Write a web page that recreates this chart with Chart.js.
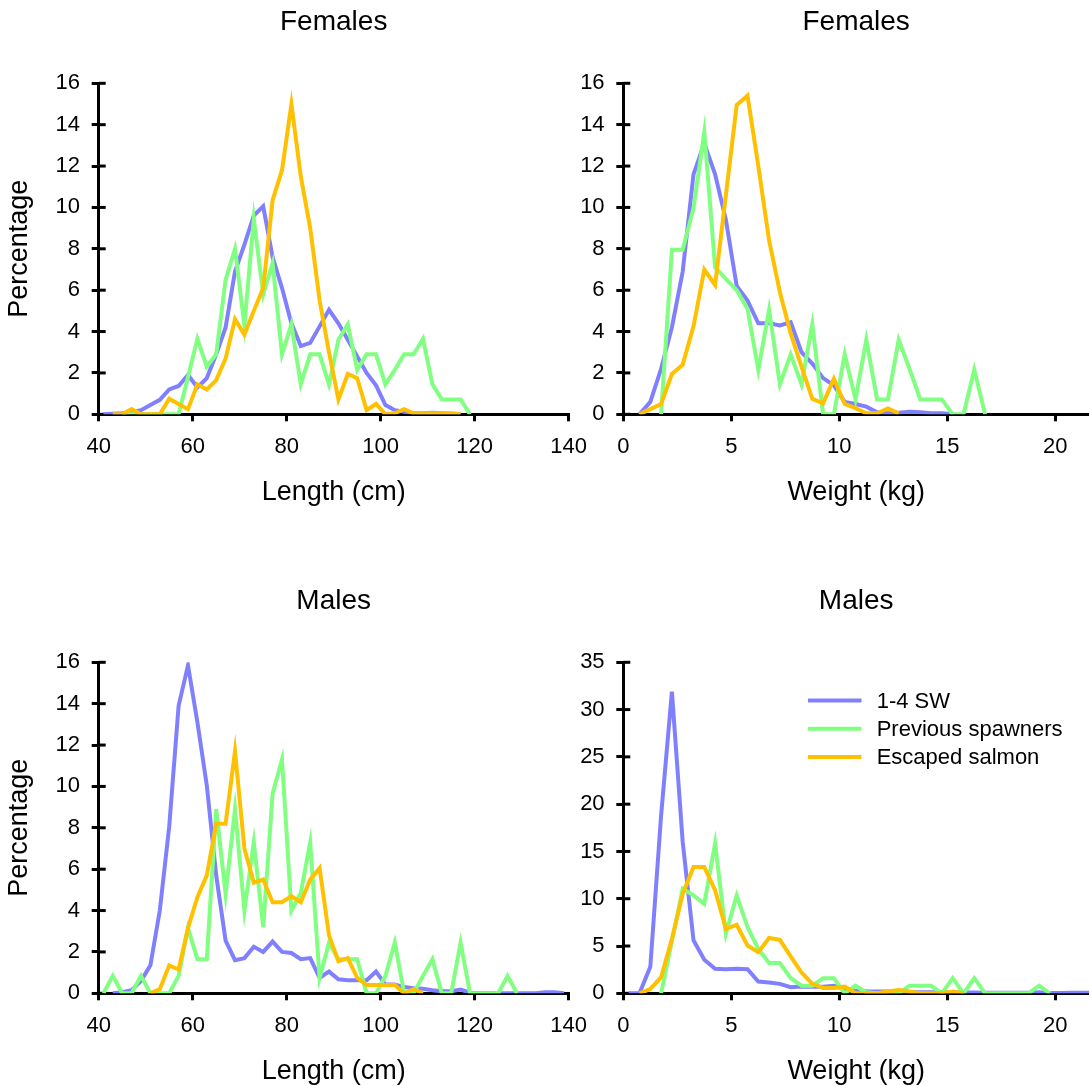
<!DOCTYPE html>
<html>
<head>
<meta charset="utf-8">
<title>Length and weight distributions</title>
<script src="https://cdn.jsdelivr.net/npm/chart.js@4.4.1/dist/chart.umd.min.js"></script>
<style>
  html, body { margin: 0; padding: 0; background: #fff; overflow: hidden; }
  #page { position: relative; width: 1089px; height: 1086px; overflow: hidden; }
  canvas { position: absolute; }
</style>
</head>
<body>
<div id="page">
  <canvas id="femaleLength" width="600" height="530" style="left:0;top:0"></canvas>
  <canvas id="femaleWeight" width="564" height="530" style="left:525px;top:0"></canvas>
  <canvas id="maleLength" width="600" height="530" style="left:0;top:579px"></canvas>
  <canvas id="maleWeight" width="564" height="530" style="left:525px;top:579px"></canvas>
</div>
<script>
// bin midpoints
const femaleLengthBins = [41, 43, 45, 47, 49, 51, 53, 55, 57, 59, 61, 63, 65, 67, 69, 71, 73, 75, 77, 79,
    81, 83, 85, 87, 89, 91, 93, 95, 97, 99, 101, 103, 105, 107, 109, 111, 113, 115, 117, 119];
const femaleLengthSW = [0, 0.03, 0.05, 0.1, 0.2, 0.45, 0.7, 1.2, 1.37, 1.9, 1.3, 1.75, 2.9, 4.2, 6.9, 8.2, 9.6, 10.05, 7.6, 6.1,
    4.4, 3.3, 3.45, 4.25, 5.05, 4.4, 3.6, 2.8, 2.0, 1.4, 0.45, 0.2, 0.12, 0.05, 0.05, 0.08, 0.05, 0.03, 0, null];
const femaleLengthPrev = [null, null, 0, 0, 0, 0, 0, 0, 0, 1.8, 3.65, 2.3, 2.9, 6.5, 8.0, 4.3, 9.45, 5.8, 7.3, 2.9,
    4.35, 1.45, 2.9, 2.9, 1.45, 3.6, 4.35, 2.15, 2.9, 2.9, 1.45, 2.15, 2.9, 2.9, 3.65, 1.45, 0.72, 0.72, 0.72, 0];
const femaleLengthEsc = [null, 0, 0, 0.25, 0, 0, 0, 0.75, 0.5, 0.25, 1.45, 1.2, 1.65, 2.7, 4.6, 3.85, 5.0, 6.1, 10.35, 11.8,
    15.0, 11.5, 9.0, 5.5, 3.0, 0.72, 1.95, 1.75, 0.2, 0.5, 0, 0.05, 0.25, 0.05, 0.05, 0.05, 0.05, 0.05, 0, null];

const femaleWeightBins = [0.75, 1.25, 1.75, 2.25, 2.75, 3.25, 3.75, 4.25, 4.75, 5.25, 5.75, 6.25, 6.75, 7.25, 7.75, 8.25, 8.75,
    9.25, 9.75, 10.25, 10.75, 11.25, 11.75, 12.25, 12.75, 13.25, 13.75, 14.25, 14.75, 15.25, 15.75, 16.25, 16.75];
const femaleWeightSW = [0, 0.6, 2.2, 4.2, 6.9, 11.6, 13.1, 11.6, 9.4, 6.2, 5.5, 4.4, 4.4, 4.3, 4.45, 3.0, 2.45,
    1.75, 1.4, 0.6, 0.5, 0.37, 0.1, 0.05, 0.08, 0.12, 0.1, 0.05, 0.05, 0, null, null, null];
const femaleWeightPrev = [null, null, 0, 7.95, 7.95, 9.95, 13.65, 7.1, 6.55, 6.0, 5.1, 2.15, 5.05, 1.45, 2.9, 1.45, 4.35,
    0, 0, 2.9, 0.72, 3.6, 0.72, 0.72, 3.6, 2.2, 0.72, 0.72, 0.72, 0, 0, 2.15, 0];
const femaleWeightEsc = [0, 0.25, 0.5, 1.95, 2.4, 4.25, 7.0, 6.25, 10.6, 14.95, 15.4, 12.0, 8.4, 5.9, 3.9, 2.3, 0.75,
    0.53, 1.72, 0.5, 0.3, 0.05, 0.05, 0.28, 0.05, null, null, null, null, null, null, null, null];

const maleLengthBins = [41, 43, 45, 47, 49, 51, 53, 55, 57, 59, 61, 63, 65, 67, 69, 71, 73, 75, 77, 79,
    81, 83, 85, 87, 89, 91, 93, 95, 97, 99, 101, 103, 105, 107, 109, 111, 113, 115, 117, 119,
    121, 123, 125, 127, 129, 131, 133, 135, 137, 139];
const maleLengthSW = [null, 0, 0.05, 0.15, 0.6, 1.35, 4.0, 8.05, 13.9, 15.85, 13.1, 10.05, 5.7, 2.55, 1.6, 1.7, 2.25, 2.0, 2.5, 2.0,
    1.95, 1.65, 1.7, 0.75, 1.05, 0.68, 0.63, 0.63, 0.63, 1.05, 0.42, 0.42, 0.3, 0.25, 0.22, 0.15, 0.1, 0.1, 0.18, 0.03,
    0.02, 0, 0, 0, 0, 0, 0, 0.05, 0.05, 0];
const maleLengthPrev = [0, 0.84, 0, 0, 0.84, 0, 0, 0, 0.84, 3.15, 1.65, 1.65, 8.9, 4.8, 8.9, 4.0, 7.3, 3.2, 9.65, 11.3,
    4.0, 4.85, 7.3, 0.75, 2.45, 1.65, 1.65, 1.65, 0, 0, 0.84, 2.45, 0, 0, 0.84, 1.65, 0, 0, 2.45, 0,
    0, 0, 0, 0.84, 0, null, null, null, null, null];
const maleLengthEsc = [null, null, null, null, null, 0, 0.2, 1.35, 1.15, 3.15, 4.65, 5.7, 8.2, 8.2, 11.7, 7.0, 5.35, 5.5, 4.4, 4.4,
    4.7, 4.4, 5.5, 6.05, 2.8, 1.55, 1.7, 0.75, 0.4, 0.4, 0.4, 0.4, 0, 0.2, 0, null, null, null, null, null,
    null, null, null, null, null, null, null, null, null, null];

const maleWeightBins = [0.25, 0.75, 1.25, 1.75, 2.25, 2.75, 3.25, 3.75, 4.25, 4.75, 5.25, 5.75, 6.25, 6.75, 7.25, 7.75,
    8.25, 8.75, 9.25, 9.75, 10.25, 10.75, 11.25, 11.75, 12.25, 12.75, 13.25, 13.75, 14.25, 14.75, 15.25, 15.75,
    16.25, 16.75, 17.25, 17.75, 18.25, 18.75, 19.25, 19.75, 20.25, 20.75, 21.25, 21.75];
const maleWeightSW = [0, 0, 2.8, 18.8, 31.9, 16.0, 5.6, 3.55, 2.6, 2.55, 2.6, 2.55, 1.25, 1.15, 1.0, 0.64,
    0.72, 0.7, 0.7, 0.8, 0.46, 0.28, 0.22, 0.2, 0.18, 0.15, 0.12, 0.1, 0.1, 0.1, 0.08, 0.08,
    0.08, 0.06, 0.05, 0.05, 0.05, 0.05, 0.1, 0.03, 0.03, 0.05, 0.05, 0.05];
const maleWeightPrev = [null, null, null, 0, 5.5, 11.05, 10.35, 9.45, 15.85, 6.3, 10.35, 7.0, 4.7, 3.2, 3.2, 1.6,
    0.8, 0.8, 1.6, 1.6, 0, 0.8, 0.1, 0, 0, 0, 0.8, 0.8, 0.8, 0, 1.6, 0,
    1.6, 0, 0, 0, 0, 0, 0.8, 0, null, null, null, null];
const maleWeightEsc = [null, 0, 0.45, 1.7, 5.75, 10.5, 13.35, 13.35, 10.9, 6.8, 7.25, 5.05, 4.35, 5.85, 5.65, 3.9,
    2.2, 1.0, 0.57, 0.57, 0.7, 0, 0, 0, 0.18, 0.35, 0.18, 0, 0, 0, 0.18, 0,
    null, null, null, null, null, null, null, null, null, null, null, null];

const SERIES_NAMES = ['1-4 SW', 'Previous spawners', 'Escaped salmon'];
const SERIES_COLORS = ['#8080ff', '#80ff80', '#ffc000'];
const FONT = "'Liberation Sans', Arial, sans-serif";

Chart.defaults.font.family = FONT;
Chart.defaults.color = '#000';

// y ticks cross the axis, so draw the inner half ourselves
const innerTicks = {
    id: 'innerTicks',
    beforeDatasetsDraw(chart) {
        const y = chart.scales.y;
        const left = chart.chartArea.left;
        const c = chart.ctx;
        c.save();
        c.strokeStyle = '#000';
        c.lineWidth = 3;
        y.ticks.forEach((t, i) => {
            const py = y.getPixelForTick(i);
            c.beginPath();
            c.moveTo(left, py);
            c.lineTo(left + 7, py);
            c.stroke();
        });
        c.restore();
    }
};

const seriesKey = {
    id: 'seriesKey',
    afterDraw(chart, args, opts) {
        if (!opts.show) return;
        const c = chart.ctx;
        const area = chart.chartArea;
        const x0 = area.left + 184.7;
        c.save();
        c.font = '22px ' + FONT;
        c.textBaseline = 'middle';
        chart.data.datasets.forEach((ds, i) => {
            const y = area.top + 38.2 + i * 28.3;
            c.strokeStyle = ds.borderColor;
            c.lineWidth = 4;
            c.beginPath();
            c.moveTo(x0, y);
            c.lineTo(x0 + 53.5, y);
            c.stroke();
            c.fillStyle = '#000';
            c.fillText(ds.label, x0 + 68.7, y + 1);
        });
        c.restore();
    }
};

function toPoints(xs, ys) {
    return xs.map((x, i) => ({ x: x, y: ys[i] })).filter(p => p.y !== null);
}

function makeDataset(i, xs, ys) {
    return {
        label: SERIES_NAMES[i],
        data: toPoints(xs, ys),
        borderColor: SERIES_COLORS[i],
        backgroundColor: SERIES_COLORS[i],
        borderWidth: 4,
        pointRadius: 0,
        tension: 0,
        fill: false,
        order: 3 - i
    };
}

function drawPanel(id, p) {
    const canvas = document.getElementById(id);
    const H = canvas.height;
    const plotBottom = 414.3;
    new Chart(canvas, {
        type: 'line',
        data: {
            datasets: [
                makeDataset(0, p.bins, p.sw),
                makeDataset(1, p.bins, p.prev),
                makeDataset(2, p.bins, p.esc)
            ]
        },
        options: {
            responsive: false,
            animation: false,
            devicePixelRatio: 1,
            layout: { padding: { left: 0, top: 0, bottom: 0, right: p.rightPad } },
            plugins: {
                legend: { display: false },
                tooltip: { enabled: false },
                title: {
                    display: true,
                    text: p.title,
                    fullSize: false,
                    color: '#000',
                    font: { size: 28, weight: 'normal' },
                    padding: { top: 5.5, bottom: 44.2 }
                },
                seriesKey: { show: !!p.key }
            },
            scales: {
                x: {
                    type: 'linear',
                    min: p.xMin,
                    max: p.xMax,
                    ticks: {
                        stepSize: p.xStep,
                        includeBounds: false,
                        autoSkip: false,
                        maxRotation: 0,
                        font: { size: 22 },
                        padding: 12.5,
                        color: '#000'
                    },
                    grid: { drawOnChartArea: false, drawTicks: true, tickLength: 7, color: '#000', lineWidth: 3 },
                    border: { display: true, color: '#000', width: 3 },
                    title: {
                        display: true,
                        text: p.xTitle,
                        color: '#000',
                        font: { size: 27 },
                        padding: { top: 0, bottom: H - 493 - 16.2 }
                    },
                    afterFit: s => { s.height = H - plotBottom; s.paddingLeft = 0; s.paddingRight = 0; }
                },
                y: {
                    min: 0,
                    max: p.yMax,
                    ticks: { stepSize: p.yStep, font: { size: 22 }, padding: 11.7, color: '#000' },
                    grid: { drawOnChartArea: false, drawTicks: true, tickLength: 7, color: '#000', lineWidth: 3 },
                    border: { display: true, color: '#000', width: 3 },
                    title: {
                        display: !!p.yTitle,
                        text: p.yTitle || '',
                        color: '#000',
                        font: { size: 27 },
                        padding: { top: 3.8, bottom: 0 }
                    },
                    afterFit: s => { s.width = p.yAxisWidth; s.paddingTop = 0; s.paddingBottom = 0; }
                }
            }
        },
        plugins: [innerTicks, seriesKey]
    });
}

drawPanel('femaleLength', {
    title: 'Females', xTitle: 'Length (cm)', yTitle: 'Percentage',
    bins: femaleLengthBins, sw: femaleLengthSW, prev: femaleLengthPrev, esc: femaleLengthEsc,
    xMin: 40, xMax: 140, xStep: 20, yMax: 16, yStep: 2, yAxisWidth: 98.7, rightPad: 31.3
});
drawPanel('femaleWeight', {
    title: 'Females', xTitle: 'Weight (kg)',
    bins: femaleWeightBins, sw: femaleWeightSW, prev: femaleWeightPrev, esc: femaleWeightEsc,
    xMin: 0, xMax: 21.56, xStep: 5, yMax: 16, yStep: 2, yAxisWidth: 98.3, rightPad: 0
});
drawPanel('maleLength', {
    title: 'Males', xTitle: 'Length (cm)', yTitle: 'Percentage',
    bins: maleLengthBins, sw: maleLengthSW, prev: maleLengthPrev, esc: maleLengthEsc,
    xMin: 40, xMax: 140, xStep: 20, yMax: 16, yStep: 2, yAxisWidth: 98.7, rightPad: 31.3
});
drawPanel('maleWeight', {
    title: 'Males', xTitle: 'Weight (kg)', key: true,
    bins: maleWeightBins, sw: maleWeightSW, prev: maleWeightPrev, esc: maleWeightEsc,
    xMin: 0, xMax: 21.56, xStep: 5, yMax: 35, yStep: 5, yAxisWidth: 98.3, rightPad: 0
});
</script>
</body>
</html>
